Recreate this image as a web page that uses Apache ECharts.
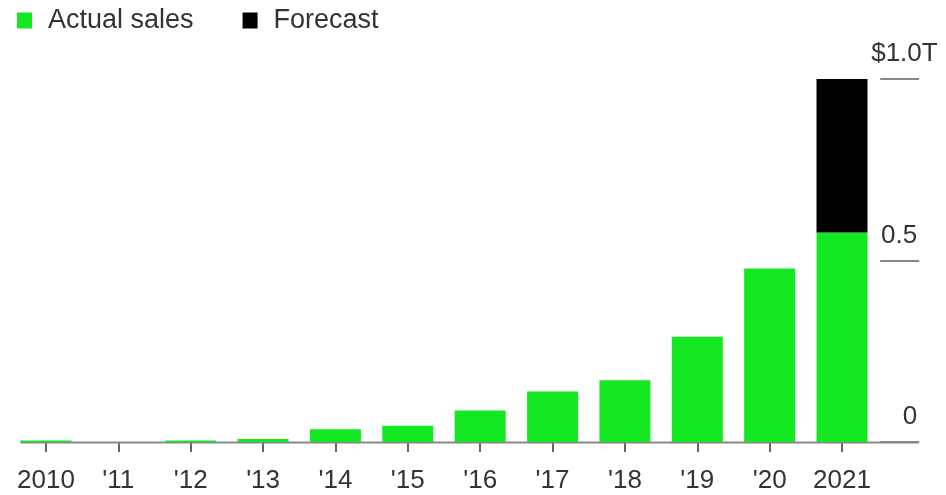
<!DOCTYPE html>
<html><head><meta charset="utf-8">
<script src="https://cdn.jsdelivr.net/npm/echarts@6/dist/echarts.min.js"></script>
<style>html,body{margin:0;padding:0;background:#fff}#c{width:946px;height:495px}</style>
</head><body><div id="c"></div>
<script>
var categories = ['2010', "'11", "'12", "'13", "'14", "'15", "'16", "'17", "'18", "'19", "'20", '2021'];
var actualSales = [0.004, 0, 0.004, 0.008, 0.035, 0.045, 0.087, 0.139, 0.17, 0.29, 0.478, 0.577];
var forecast = ['-', '-', '-', '-', '-', '-', '-', '-', '-', '-', '-', 0.423];
var yTicks = [0, 0.5, 1];
var yTickLabels = ['0', '0.5', '$1.0T'];

var FONT = '"Liberation Sans", Arial, sans-serif';
var GREEN = '#13e822';
var chart = echarts.init(document.getElementById('c'), null, {renderer: 'canvas'});
var option = {
  animation: false,
  textStyle: {fontFamily: FONT},
  legend: {
    left: 12, top: 2, itemWidth: 15, itemHeight: 16, icon: 'rect', itemGap: 49,
    textStyle: {fontSize: 27, color: '#333', fontFamily: FONT, padding: [0, 0, 0, 11]},
    data: ['Actual sales', 'Forecast']
  },
  grid: {left: 9.8, right: 67.8, top: 79, bottom: 53},
  xAxis: {
    type: 'category', data: categories,
    axisLine: {show: false},
    axisTick: {show: true, alignWithLabel: true, length: 10, lineStyle: {color: '#333', width: 1.5}},
    axisLabel: {interval: 0, fontSize: 26, color: '#333', margin: 26, fontFamily: FONT}
  },
  yAxis: {
    type: 'value', position: 'right', offset: 41, min: 0, max: 1, interval: 0.5,
    axisLine: {show: false},
    splitLine: {show: false},
    axisTick: {show: true, inside: true, length: 39, lineStyle: {color: '#888', width: 2}},
    axisLabel: {
      inside: false, margin: -2, align: 'right', verticalAlign: 'bottom',
      fontSize: 26, color: '#333', fontFamily: FONT, padding: [0, 0, 12, 0],
      formatter: function (v) {
        var i = yTicks.indexOf(v);
        var t = i >= 0 ? yTickLabels[i] : '';
        if (t.length > 3) return '{m|' + t + '}';
        return t;
      },
      rich: {m: {width: 46, align: 'left', fontSize: 26, color: '#333', fontFamily: FONT}}
    }
  },
  series: [
    {name: 'Actual sales', type: 'bar', stack: 's', barWidth: 51, z: 5, data: actualSales, itemStyle: {color: GREEN}},
    {name: 'Forecast', type: 'bar', stack: 's', barWidth: 51, z: 5, data: forecast, itemStyle: {color: '#000'}}
  ]
};
chart.setOption(option);
var y0 = chart.convertToPixel({yAxisIndex: 0}, 0);
var xFirst = chart.convertToPixel({xAxisIndex: 0}, categories[0]) - 25.5;
chart.setOption({graphic: [{
  type: 'line', z: 1,
  shape: {x1: xFirst, y1: y0 + 0.5, x2: 919, y2: y0 + 0.5},
  style: {stroke: '#888', lineWidth: 2}
}]});
</script></body></html>
